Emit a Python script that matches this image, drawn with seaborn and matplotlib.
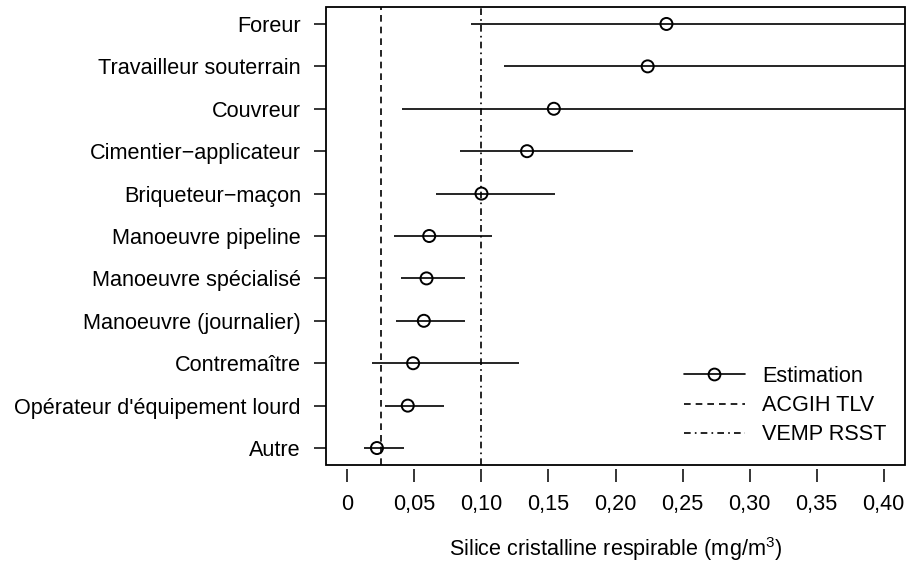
import numpy as np
import pandas as pd
import matplotlib
matplotlib.use("Agg")
import matplotlib.pyplot as plt
from matplotlib.lines import Line2D
from matplotlib.patches import Rectangle
import seaborn as sns

categories = ["Foreur", "Travailleur souterrain", "Couvreur", "Cimentier\u2212applicateur",
              "Briqueteur\u2212maçon", "Manoeuvre pipeline", "Manoeuvre spécialisé",
              "Manoeuvre (journalier)", "Contremaître", "Opérateur d'équipement lourd", "Autre"]
estimate = [0.238, 0.224, 0.154, 0.134, 0.100, 0.061, 0.059, 0.057, 0.049, 0.045, 0.022]
lower = [0.092, 0.117, 0.041, 0.084, 0.066, 0.035, 0.040, 0.036, 0.018, 0.028, 0.012]
upper = [0.620, 0.550, 0.580, 0.213, 0.155, 0.108, 0.088, 0.088, 0.128, 0.072, 0.042]
acgih_tlv = 0.025
vemp_rsst = 0.10
xticks = [0, 0.05, 0.10, 0.15, 0.20, 0.25, 0.30, 0.35, 0.40]
xticklabels = ["0", "0,05", "0,10", "0,15", "0,20", "0,25", "0,30", "0,35", "0,40"]

n = len(categories)
df = pd.DataFrame({"cat": categories, "est": estimate, "lo": lower, "hi": upper,
                   "pos": np.arange(n)[::-1]})

sns.set_style("ticks")
plt.rcParams["font.family"] = ["Liberation Sans", "DejaVu Sans"]
plt.rcParams["mathtext.fontset"] = "custom"
plt.rcParams["mathtext.rm"] = "Liberation Sans"
plt.rcParams["text.color"] = "black"
plt.rcParams["axes.labelcolor"] = "black"
FS = 15.6

fig = plt.figure(figsize=(9.07, 5.71), dpi=100)
ax = fig.add_axes([326/907, 1-465/571, (905-326)/907, (465-7)/571])

lw = 1.2
ax.hlines(df["pos"], df["lo"], df["hi"], color="black", lw=lw, zorder=2)
sns.scatterplot(data=df, x="est", y="pos", ax=ax, marker="o", s=75,
                facecolor="none", edgecolor="black", linewidth=1.4, zorder=3, legend=False)
ax.axvline(acgih_tlv, color="black", lw=lw, ls=(0, (4, 3)), zorder=1)
ax.axvline(vemp_rsst, color="black", lw=lw, ls=(0, (4, 2.5, 1, 2.5)), zorder=1)

ax.set_xlim(-0.016, 0.416)
ax.set_ylim(-0.4, n - 1 + 0.4)
ax.set_yticks(df["pos"])
ax.set_yticklabels(df["cat"])
ax.set_xticks(xticks)
ax.set_xticklabels(xticklabels)
ax.set_ylabel("")
ax.set_xlabel("Silice cristalline respirable (mg/m$^3$)", fontsize=FS, labelpad=14,
              color="black")

for s in ax.spines.values():
    s.set_visible(False)
ax.spines["bottom"].set_visible(True)
ax.spines["bottom"].set_position(("outward", 3))
ax.spines["bottom"].set_linewidth(0)
ax.add_patch(Rectangle((0, 0), 1, 1, transform=ax.transAxes, fill=False,
                       edgecolor="black", lw=1.3, clip_on=False, zorder=5))
ax.tick_params(axis="both", direction="out", length=9, width=1.1, color="black",
               labelcolor="black", labelsize=FS)
ax.tick_params(axis="x", pad=9)
ax.tick_params(axis="y", pad=9)

handles = [Line2D([], [], color="black", lw=lw, marker="o", markersize=8.5,
                  markerfacecolor="none", markeredgewidth=1.4),
           Line2D([], [], color="black", lw=lw, ls=(0, (4, 3))),
           Line2D([], [], color="black", lw=lw, ls=(0, (4, 2.5, 1, 2.5)))]
leg = ax.legend(handles, ["Estimation", "ACGIH TLV", "VEMP RSST"], frameon=False,
                fontsize=FS, loc="upper left", bbox_to_anchor=(684/907, 1-366/571),
                bbox_transform=fig.transFigure, borderpad=0, borderaxespad=0,
                handlelength=2.8, handletextpad=0.8, labelspacing=0.38)
for t in leg.get_texts():
    t.set_color("black")

fig.savefig("out.png", dpi=100)
